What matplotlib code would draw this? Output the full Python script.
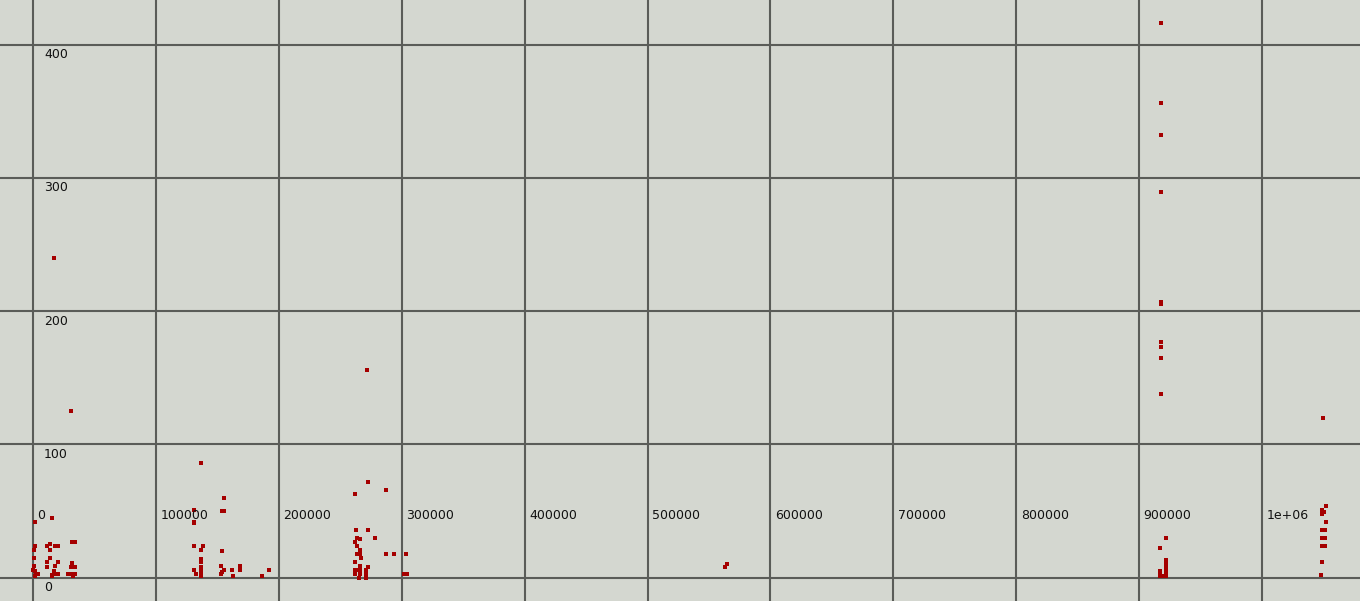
import matplotlib
matplotlib.use("Agg")
import matplotlib.pyplot as plt
import matplotlib.transforms as mtransforms

# scatter values (x, y)
x_vals = [
    # near 0
    1600, 15500, 31700, 34200, 1600, 11400, 13800, 17900, 20300, 500, 13800,
    500, 13800, 11400, 20300, 32000, 500, 11400, 17900, 30800, 34200, 16800,
    0, 1600, 2400, 4100, 15500, 17900, 20300, 28600, 30800, 34200, 1600,
    15500, 32500, 17100, 30900,
    # 130k-190k
    136700, 155400, 153500, 155000, 131000, 131000, 131000, 131000, 138100,
    136700, 136700, 136700, 153800, 131000, 132600, 136700, 136700, 136700,
    136700, 152700, 155400, 152700, 153500, 161900, 168400, 168400, 162700,
    186600, 192000,
    # 260k-305k
    272600, 262000, 287200, 262800, 272600, 263600, 266100, 278300, 262000,
    263600, 266100, 263600, 266100, 287200, 293700, 303500, 266900, 262000,
    266100, 272600, 262000, 263600, 266100, 271000, 262000, 266100, 271000,
    265300, 271000, 301900, 304300, 271800,
    # ~560k
    563100, 564700,
    # ~920k
    921900, 917000, 921900, 921900, 921900, 921900, 921900, 917000, 917000,
    917000, 919000, 918000, 918000, 918000, 918000, 918000, 918000, 918000,
    918000, 918000, 918000,
    # ~1.05M
    1049600, 1051900, 1048800, 1050400, 1048800, 1051900, 1048800, 1051200,
    1048800, 1051200, 1048800, 1051200, 1048800, 1047900,
]
y_vals = [
    42, 45, 27, 27, 24, 24, 25, 24, 24, 21, 21,
    15, 15, 12, 12, 11, 9, 8, 9, 8, 8, 5,
    6, 5, 3, 3, 2, 3, 3, 3, 3, 3, 1,
    1, 1, 240, 125,
    86, 60, 50, 50, 51, 42, 41, 24, 24,
    21, 14, 12, 20, 6, 3, 8, 6, 3,
    1, 9, 6, 3, 4, 6, 9, 6, 1,
    1, 6,
    72, 63, 66, 36, 36, 30, 29, 30, 27,
    24, 21, 18, 18, 18, 18, 18, 15, 12,
    9, 8, 6, 6, 6, 6, 3, 3, 3,
    0, 0, 3, 3, 156,
    8, 10,
    30, 22, 13, 10, 7, 4, 1, 5, 3,
    1, 1, 416, 356, 332, 289, 207, 205, 177,
    173, 165, 138,
    120, 54, 51, 49, 48, 42, 36, 36,
    30, 30, 24, 24, 12, 2,
]

x_ticks = [0, 100000, 200000, 300000, 400000, 500000, 600000, 700000,
           800000, 900000, 1000000]
x_tick_labels = ["0", "100000", "200000", "300000", "400000", "500000",
                 "600000", "700000", "800000", "900000", "1e+06"]
y_ticks = [0, 100, 200, 300, 400]
y_tick_labels = ["0", "100", "200", "300", "400"]

BG = "#d4d7d0"
GRID = "#5a5c58"
DOT = "#a50000"

fig = plt.figure(figsize=(13.6, 6.01), dpi=100, facecolor=BG)
ax = fig.add_axes([0, 0, 1, 1], facecolor=BG)
ax.set_xlim(-26850, 1079700)
ax.set_ylim(-17.6, 433.4)

for xv in x_ticks:
    ax.axvline(xv, color=GRID, lw=1.5, zorder=1)
for yv in y_ticks:
    ax.axhline(yv, color=GRID, lw=1.5, zorder=1)

ax.plot(x_vals, y_vals, ls="none", marker="s", ms=3.0, mew=0,
        color=DOT, zorder=3)

ax.set_xticks([]); ax.set_yticks([])
for s in ax.spines.values():
    s.set_visible(False)

# tick labels drawn inside the plot, as in the reference
xt = mtransforms.blended_transform_factory(ax.transData, ax.transAxes)
xt = xt + mtransforms.ScaledTranslation(4.5 / 100, 0, fig.dpi_scale_trans)
for xv, lab in zip(x_ticks, x_tick_labels):
    ax.text(xv, 0.143, lab, transform=xt, ha="left", va="center",
            fontsize=9, color="#111111", zorder=4)

yt = ax.transData + mtransforms.ScaledTranslation(11 / 100, -10 / 100,
                                                  fig.dpi_scale_trans)
for yv, lab in zip(y_ticks, y_tick_labels):
    ax.text(0, yv, lab, transform=yt, ha="left", va="center",
            fontsize=9, color="#111111", zorder=4)

fig.savefig("out.png", dpi=100, facecolor=BG)
